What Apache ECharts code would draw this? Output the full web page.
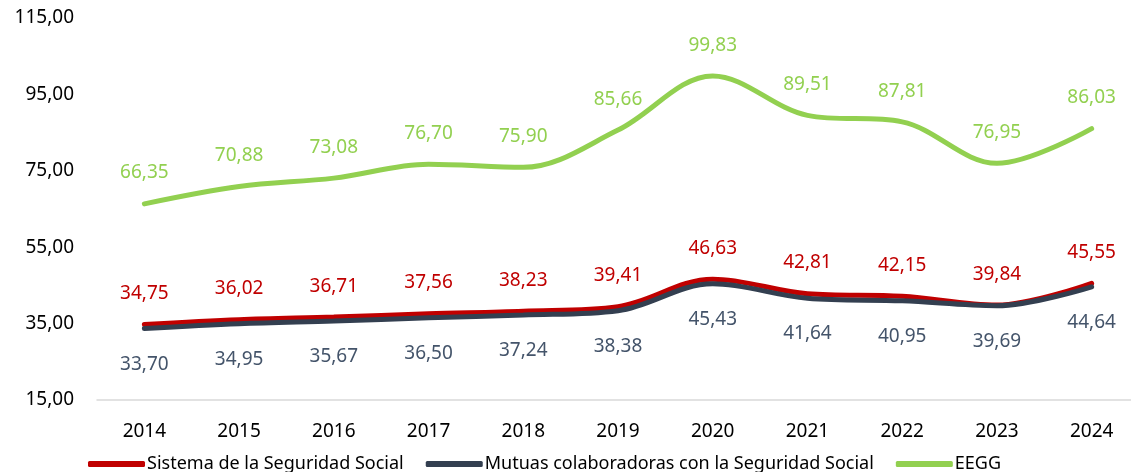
<!DOCTYPE html>
<html>
<head>
<meta charset="utf-8">
<script src="https://cdn.jsdelivr.net/npm/echarts@6/dist/echarts.min.js"></script>
<style>
  html, body { margin: 0; padding: 0; background: #fff; }
  #chart { width: 1131px; height: 472px; }
</style>
</head>
<body>
<div id="chart"></div>
<script>
  const years = ['2014', '2015', '2016', '2017', '2018', '2019', '2020', '2021', '2022', '2023', '2024']
  const sistema = [34.75, 36.02, 36.71, 37.56, 38.23, 39.41, 46.63, 42.81, 42.15, 39.84, 45.55]
  const mutuas = [33.70, 34.95, 35.67, 36.50, 37.24, 38.38, 45.43, 41.64, 40.95, 39.69, 44.64]
  const eegg = [66.35, 70.88, 73.08, 76.70, 75.90, 85.66, 99.83, 89.51, 87.81, 76.95, 86.03]

  const fmt = (v) => Number(v).toFixed(2).replace('.', ',')
  const font = 'Noto Sans, sans-serif'

  let chart = echarts.init(document.getElementById('chart'))

  const mkSeries = (name, data, color, labelColor, pos, z) => ({
    name: name,
    type: 'line',
    data: data,
    smooth: 0.35,
    symbol: 'circle',
    symbolSize: 0.5,
    showSymbol: true,
    z: z,
    lineStyle: { width: 5, color: color, cap: 'round' },
    itemStyle: { color: color },
    label: {
      show: true,
      position: pos,
      distance: pos === 'top' ? 21 : 26,
      color: labelColor,
      fontSize: 19,
      fontFamily: font,
      formatter: (p) => fmt(p.value)
    }
  })

  const option = {
    animation: false,
    grid: {
      left: 97,
      right: -8,
      top: 18,
      bottom: 72,
      outerBoundsMode: 'none'
    },
    legend: {
      left: 83,
      top: 450,
      itemWidth: 57,
      itemHeight: 6,
      itemGap: 22,
      icon: 'roundRect',
      textStyle: { fontSize: 18, fontFamily: font, color: '#000', padding: [0, 0, 0, -3] },
      data: ['Sistema de la Seguridad Social', 'Mutuas colaboradoras con la Seguridad Social', 'EEGG']
    },
    xAxis: {
      type: 'category',
      data: years,
      boundaryGap: true,
      axisLine: { lineStyle: { color: '#d9d9d9', width: 1.5 } },
      axisTick: { show: false },
      axisLabel: { color: '#000', fontSize: 19, fontFamily: font, margin: 22 }
    },
    yAxis: {
      type: 'value',
      min: 15,
      max: 115,
      interval: 20,
      splitLine: { show: false },
      axisLine: { show: false },
      axisTick: { show: false },
      axisLabel: { color: '#000', fontSize: 19, fontFamily: font, margin: 23, formatter: (v) => fmt(v) }
    },
    series: [
      mkSeries('Sistema de la Seguridad Social', sistema, '#c00000', '#c00000', 'top', 3),
      mkSeries('Mutuas colaboradoras con la Seguridad Social', mutuas, '#333f50', '#44546a', 'bottom', 4),
      mkSeries('EEGG', eegg, '#92d050', '#92d050', 'top', 2)
    ]
  }

  chart.setOption(option)
  window.onresize = () => {
    chart.resize()
  }
</script>
</body>
</html>
